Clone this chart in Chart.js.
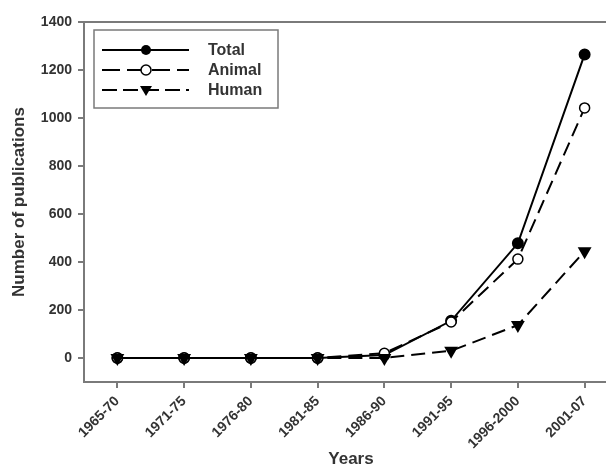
<!DOCTYPE html>
<html>
<head>
<meta charset="utf-8">
<script src="https://cdn.jsdelivr.net/npm/chart.js@4/dist/chart.umd.min.js"></script>
<style>
  html, body { margin: 0; padding: 0; background: #fff; overflow: hidden; }
  #wrap { width: 606px; height: 468px; overflow: hidden; position: relative; }
  #box { width: 626px; height: 468px; position: absolute; left: 0; top: 0; }
</style>
</head>
<body>
<div id="wrap"><div id="box"><canvas id="c"></canvas></div></div>
<script>
const categories = ['1965-70', '1971-75', '1976-80', '1981-85', '1986-90', '1991-95', '1996-2000', '2001-07'];
const totalValues  = [0, 0, 0, 0, 12, 155, 478, 1265];
const animalValues = [0, 0, 0, 0, 20, 150, 412, 1042];
const humanValues  = [0, 0, 0, 0, 0, 30, 137, 445];
const yTicks = [0, 200, 400, 600, 800, 1000, 1200, 1400];
const seriesNames = ['Total', 'Animal', 'Human'];

const AX = '#7a7a7a';
const TXT = '#333333';
const FONT = 'Liberation Sans, Arial, sans-serif';

const legendPlugin = {
  id: 'customLegend',
  afterDraw(chart) {
    const ctx = chart.ctx;
    const ca = chart.chartArea;
    ctx.save();
    // top frame line
    ctx.strokeStyle = AX;
    ctx.lineWidth = 2;
    ctx.beginPath();
    ctx.moveTo(ca.left, ca.top);
    ctx.lineTo(ca.right, ca.top);
    ctx.stroke();
    // legend box
    ctx.lineWidth = 1.5;
    ctx.strokeRect(94, 30, 184, 78);
    const dashes = [[], [18, 7], [15, 6]];
    for (let i = 0; i < 3; i++) {
      const y = 50 + 20 * i;
      ctx.strokeStyle = '#000';
      ctx.lineWidth = 2;
      ctx.setLineDash(dashes[i]);
      ctx.beginPath();
      ctx.moveTo(102, y);
      ctx.lineTo(189, y);
      ctx.stroke();
      ctx.setLineDash([]);
      ctx.lineWidth = 1.5;
      if (i === 0) {
        ctx.fillStyle = '#000';
        ctx.beginPath(); ctx.arc(146, y, 5, 0, Math.PI * 2); ctx.fill();
      } else if (i === 1) {
        ctx.fillStyle = '#fff';
        ctx.beginPath(); ctx.arc(146, y, 5, 0, Math.PI * 2); ctx.fill(); ctx.stroke();
      } else {
        ctx.fillStyle = '#000';
        ctx.beginPath();
        ctx.moveTo(140, y - 4); ctx.lineTo(152, y - 4); ctx.lineTo(146, y + 6);
        ctx.closePath(); ctx.fill();
      }
      ctx.fillStyle = TXT;
      ctx.font = 'bold 16px ' + FONT;
      ctx.textBaseline = 'middle';
      ctx.textAlign = 'left';
      ctx.fillText(seriesNames[i], 208, y + 1);
    }
    ctx.restore();
  }
};

new Chart(document.getElementById('c'), {
  type: 'line',
  data: {
    labels: categories,
    datasets: [
      {
        label: seriesNames[0], data: totalValues,
        borderColor: '#000', borderWidth: 2,
        pointStyle: 'circle', pointRadius: 5, pointBackgroundColor: '#000', pointBorderColor: '#000',
        tension: 0, order: 3
      },
      {
        label: seriesNames[1], data: animalValues,
        borderColor: '#000', borderWidth: 2, borderDash: [14, 7],
        pointStyle: 'circle', pointRadius: 5, pointBackgroundColor: '#fff', pointBorderColor: '#000', pointBorderWidth: 1.5,
        tension: 0, order: 2
      },
      {
        label: seriesNames[2], data: humanValues,
        borderColor: '#000', borderWidth: 2, borderDash: [14, 7],
        pointStyle: 'triangle', pointRotation: 180, pointRadius: 6, pointBackgroundColor: '#000', pointBorderColor: '#000',
        tension: 0, order: 1
      }
    ]
  },
  options: {
    responsive: true,
    maintainAspectRatio: false,
    animation: false,
    layout: { padding: { top: 22, right: 0, left: 0, bottom: 0 } },
    plugins: { legend: { display: false }, tooltip: { enabled: false } },
    scales: {
      x: {
        type: 'category',
        offset: true,
        grid: { drawOnChartArea: false, drawTicks: true, tickLength: 6, color: AX, lineWidth: 2, offset: false },
        border: { display: true, color: AX, width: 2 },
        ticks: {
          color: TXT, font: { family: FONT, size: 14, weight: 'bold' },
          maxRotation: 45, minRotation: 45, padding: 5, autoSkip: false
        },
        title: {
          display: true, text: 'Years', color: TXT,
          font: { family: FONT, size: 17, weight: 'bold', lineHeight: 1.0 }, padding: { top: 0, bottom: 0 }
        },
        afterFit(scale) { scale.height = 86; }
      },
      y: {
        min: -100, max: 1400,
        afterBuildTicks(scale) { scale.ticks = yTicks.map(v => ({ value: v })); },
        grid: { drawOnChartArea: false, drawTicks: true, tickLength: 6, color: AX, lineWidth: 2 },
        border: { display: true, color: AX, width: 2 },
        ticks: {
          color: TXT, font: { family: FONT, size: 14, weight: 'bold' }, padding: 6,
          callback: (v) => String(v)
        },
        title: {
          display: true, text: 'Number of publications', color: TXT,
          font: { family: FONT, size: 17, weight: 'bold' }, padding: { top: 9, bottom: 0 }
        },
        afterFit(scale) { scale.width = 84; }
      }
    }
  },
  plugins: [legendPlugin]
});
</script>
</body>
</html>
